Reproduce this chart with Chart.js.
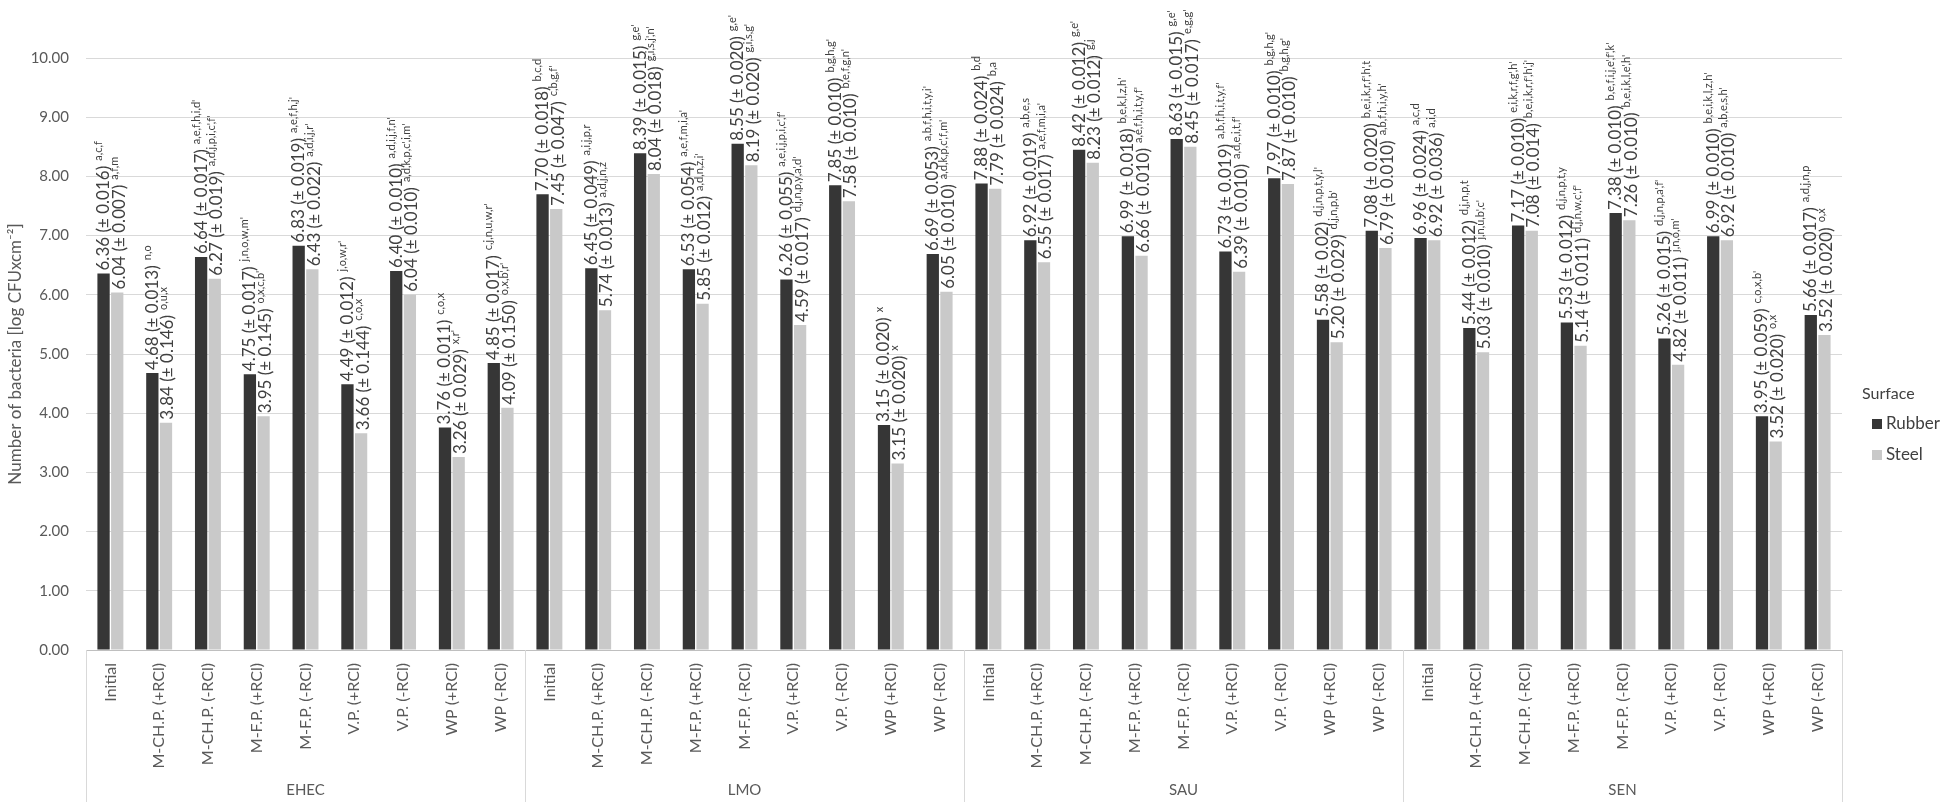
<!DOCTYPE html>
<html><head><meta charset="utf-8">
<script src="https://cdn.jsdelivr.net/npm/chart.js@4.4.1/dist/chart.umd.min.js"></script>
<style>html,body{margin:0;padding:0;background:#fff;overflow:hidden}</style>
</head><body>
<canvas id="c" width="1953" height="806"></canvas>
<script>
const groups = ['EHEC', 'LMO', 'SAU', 'SEN'];
const treatments = ['Initial', 'M-CH.P. (+RCl)', 'M-CH.P. (-RCl)', 'M-F.P. (+RCl)', 'M-F.P. (-RCl)', 'V.P. (+RCl)', 'V.P. (-RCl)', 'WP (+RCl)', 'WP (-RCl)'];
const seriesNames = ['Rubber', 'Steel'];
const legendTitle = 'Surface';
const yTitle = 'Number of bacteria [log CFUxcm\u207B\u00B2]';

const rubberValues = [
  6.36, 4.68, 6.64, 4.66, 6.83, 4.49, 6.40, 3.76, 4.85,
  7.70, 6.45, 8.39, 6.43, 8.55, 6.26, 7.85, 3.80, 6.69,
  7.88, 6.92, 8.45, 6.99, 8.63, 6.73, 7.97, 5.58, 7.08,
  6.96, 5.44, 7.17, 5.53, 7.38, 5.26, 6.99, 3.95, 5.66];
const steelValues = [
  6.04, 3.84, 6.27, 3.95, 6.43, 3.66, 6.00, 3.26, 4.09,
  7.45, 5.74, 8.04, 5.85, 8.19, 5.49, 7.58, 3.15, 6.05,
  7.79, 6.55, 8.23, 6.66, 8.50, 6.39, 7.87, 5.20, 6.79,
  6.92, 5.03, 7.08, 5.14, 7.26, 4.82, 6.92, 3.52, 5.32];

const rubberText = [
  '6.36 (± 0.016)', '4.68 (± 0.013)', '6.64 (± 0.017)', '4.75 (± 0.017)', '6.83 (± 0.019)', '4.49 (± 0.012)', '6.40 (± 0.010)', '3.76 (± 0.011)', '4.85 (± 0.017)',
  '7.70 (± 0.018)', '6.45 (± 0.049)', '8.39 (± 0.015)', '6.53 (± 0.054)', '8.55 (± 0.020)', '6.26 (± 0.055)', '7.85 (± 0.010)', '3.15 (± 0.020)', '6.69 (± 0.053)',
  '7.88 (± 0.024)', '6.92 (± 0.019)', '8.42 (± 0.012)', '6.99 (± 0.018)', '8.63 (± 0.015)', '6.73 (± 0.019)', '7.97 (± 0.010)', '5.58 (± 0.02)', '7.08 (± 0.020)',
  '6.96 (± 0.024)', '5.44 (± 0.012)', '7.17 (± 0.010)', '5.53 (± 0.012)', '7.38 (± 0.010)', '5.26 (± 0.015)', '6.99 (± 0.010)', '3.95 (± 0.059)', '5.66 (± 0.017)'];
const rubberLetters = [
  'a,c,f', 'n,o', "a,e,f,h,i,d'", "j,n,o,w,m'", "a,e,f,h,j'", "j,o,w,r'", "a,d,i,j,f,n'", 'c,o,x', "c,j,n,u,w,r'",
  'b,c,d', 'a,i,j,p,r', "g,e'", "a,e,f,m,i,a'", "g,e'", "a,e,i,j,p,i,c',f'", "b,g,h,g'", 'x', "a,b,f,h,i,t,y,i'",
  'b,d', 'a,b,e,s', "g,e'", "b,e,k,l,z,h'", "g,e'", "a,b,f,h,i,t,y,f'", "b,g,h,g'", "d,j,n,p,t,y,l'", "b,e,i,k,r,f',h',t",
  'a,c,d', 'd,j,n,p,t', "e,i,k,r,f,g',h'", 'd,j,n,p,t,y', "b,e,f,i,j,e',f',k'", "d,j,n,p,a',f'", "b,e,i,k,l,z,h'", "c,o,x,b'", 'a,d,j,n,p'];
const steelText = [
  '6.04 (± 0.007)', '3.84 (± 0.146)', '6.27 (± 0.019)', '3.95 (± 0.145)', '6.43 (± 0.022)', '3.66 (± 0.144)', '6.04 (± 0.010)', '3.26 (± 0.029)', '4.09 (± 0.150)',
  '7.45 (± 0.047)', '5.74 (± 0.013)', '8.04 (± 0.018)', '5.85 (± 0.012)', '8.19 (± 0.020)', '4.59 (± 0.017)', '7.58 (± 0.010)', '3.15 (± 0.020)', '6.05 (± 0.010)',
  '7.79 (± 0.024)', '6.55 (± 0.017)', '8.23 (± 0.012)', '6.66 (± 0.010)', '8.45 (± 0.017)', '6.39 (± 0.010)', '7.87 (± 0.010)', '5.20 (± 0.029)', '6.79 (± 0.010)',
  '6.92 (± 0.036)', '5.03 (± 0.010)', '7.08 (± 0.014)', '5.14 (± 0.011)', '7.26 (± 0.010)', '4.82 (± 0.011)', '6.92 (± 0.010)', '3.52 (± 0.020)', '3.52 (± 0.020)'];
const steelLetters = [
  'a,f,m', 'o,u,x', "a,d,j,p,i,c',f'", "o,x,c,b'", "a,d,i,j,r'", 'c,o,x', "a,d,k,p,c',i,m'", "x,r'", "o,x,b',r'",
  "c,b,g,f'", 'a,d,j,n,z', "g,i,s,j',n'", "a,d,n,z,i'", "g,i,s,g'", "d,j,n,p,y,a',d'", "b,e,f,g,n'", 'x', "a,d,k,p,c',f,m'",
  'b,a', "a,e,f,m,i,a'", 'g,j', "a,e,f,h,i,t,y,f'", "e,g,g'", "a,d,e,i,t,f'", "b,g,h,g'", "d,j,n,p,b'", "a,b,f,h,i,y,h'",
  'a,i,d', "j,n,u,b',c'", "b,e,i,k,r,f',h',j'", "d,j,n,w,c',f'", "b,e,i,k,l,e',h'", "j,n,o,m'", "a,b,e,s,h'", 'o,x', 'o,x'];
const yTicks = [0, 1, 2, 3, 4, 5, 6, 7, 8, 9, 10];

const FONT = "Lato, 'Open Sans', sans-serif";
Chart.defaults.font.family = FONT;
Chart.defaults.color = '#595959';

const catLabels = groups.flatMap(() => treatments);
const labelSets = [[rubberText, rubberLetters], [steelText, steelLetters]];

const barLabels = {
  id: 'barLabels',
  afterDatasetsDraw(chart) {
    const ctx = chart.ctx;
    chart.data.datasets.forEach((ds, i) => {
      const meta = chart.getDatasetMeta(i);
      const dx = i === 0 ? -1 : 1;
      meta.data.forEach((bar, j) => {
        ctx.save();
        ctx.translate(bar.x + dx, bar.y - 3);
        ctx.rotate(-Math.PI / 2);
        ctx.fillStyle = '#404040';
        ctx.textAlign = 'left';
        ctx.textBaseline = 'middle';
        ctx.font = '17px ' + FONT;
        const t = labelSets[i][0][j];
        ctx.fillText(t, 0, 1);
        const w = ctx.measureText(t).width;
        ctx.font = '11px ' + FONT;
        ctx.fillText(labelSets[i][1][j], w + 5, -4);
        ctx.restore();
      });
    });
  }
};

const groupsAndLegend = {
  id: 'groupsAndLegend',
  afterDraw(chart) {
    const {ctx, chartArea} = chart;
    const n = treatments.length;
    const catW = (chartArea.right - chartArea.left) / catLabels.length;
    ctx.save();
    ctx.strokeStyle = '#d9d9d9';
    ctx.lineWidth = 1;
    for (let g = 0; g <= groups.length; g++) {
      const x = Math.round(chartArea.left + g * n * catW) + 0.5;
      ctx.beginPath();
      ctx.moveTo(x, chartArea.bottom);
      ctx.lineTo(x, 802);
      ctx.stroke();
    }
    ctx.fillStyle = '#595959';
    ctx.font = '15px ' + FONT;
    ctx.textAlign = 'center';
    ctx.textBaseline = 'middle';
    groups.forEach((g, i) => ctx.fillText(g, chartArea.left + (i * n + n / 2) * catW, 790));
    // legend
    ctx.textAlign = 'left';
    ctx.fillStyle = '#404040';
    ctx.font = '16px ' + FONT;
    ctx.fillText(legendTitle, 1862, 394);
    chart.data.datasets.forEach((ds, i) => {
      const y = 424 + i * 31;
      ctx.fillStyle = ds.backgroundColor;
      ctx.fillRect(1872, y - 5, 10, 10);
      ctx.fillStyle = '#404040';
      ctx.font = '17px ' + FONT;
      ctx.fillText(ds.label, 1886, y);
    });
    ctx.restore();
  }
};

new Chart(document.getElementById('c'), {
  type: 'bar',
  data: {
    labels: catLabels,
    datasets: [
      {label: seriesNames[0], data: rubberValues, backgroundColor: '#363636', categoryPercentage: 0.56, barPercentage: 0.9},
      {label: seriesNames[1], data: steelValues, backgroundColor: '#c9c9c9', categoryPercentage: 0.56, barPercentage: 0.9}
    ]
  },
  options: {
    responsive: false,
    animation: false,
    layout: {padding: {top: 58, right: 111, left: 0, bottom: 0}},
    plugins: {legend: {display: false}, tooltip: {enabled: false}},
    scales: {
      x: {
        grid: {display: false, drawTicks: false},
        border: {display: true, color: '#bfbfbf'},
        ticks: {autoSkip: false, maxRotation: 90, minRotation: 90, padding: 13, font: {size: 16}, color: '#595959'},
        afterFit(s) { s.height = 156; }
      },
      y: {
        min: 0, max: 10,
        afterBuildTicks(s) { s.ticks = yTicks.map(v => ({value: v})); },
        ticks: {callback: v => Number(v).toFixed(2), padding: 17, font: {size: 15}, color: '#595959'},
        grid: {color: '#d9d9d9', drawTicks: false},
        border: {display: false},
        title: {display: true, text: yTitle, font: {size: 17}, color: '#595959', padding: {top: 5, bottom: 0}},
        afterFit(s) { s.width = 86; }
      }
    }
  },
  plugins: [barLabels, groupsAndLegend]
});
</script>
</body></html>
